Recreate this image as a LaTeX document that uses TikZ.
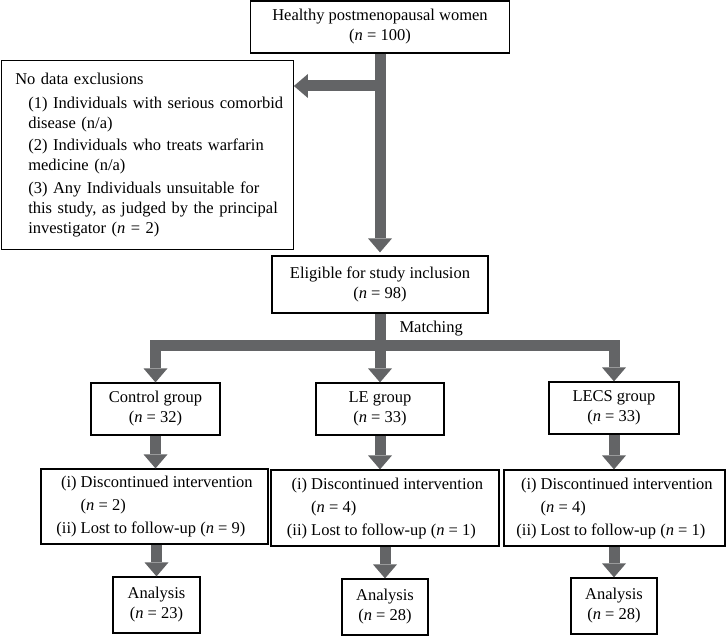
\documentclass[tikz,border=0pt]{standalone}
\usepackage{fontspec}
\setmainfont{Liberation Serif}
\usetikzlibrary{arrows.meta}
\definecolor{flechagris}{RGB}{99,100,102}
\newcommand{\nval}[1]{(\textit{n} = #1)}

\begin{document}
\begin{tikzpicture}[x=1pt,y=-1pt,
	caja/.style={draw=black, line width=1.2pt, fill=white, inner sep=0pt, align=center, font=\fontsize{16.5}{20}\selectfont},
	grueso/.style={draw=flechagris, line width=11pt},
	flecha/.style={grueso, line join=miter, -{Triangle[width=24pt,length=14pt,line width=0pt]}}]
	\useasboundingbox (0,0) rectangle (726,636);

	% Cajas superiores
		\node[caja, minimum width=259pt, minimum height=52pt] (sanas) at (380,27) {Healthy postmenopausal women\\ \nval{100}};
		\node[caja, anchor=north west, align=left, text width=264pt, inner xsep=14pt, minimum height=189pt] (excl) at (0.7,59.6) {\begin{tabular}{@{\hspace{13pt}}l@{}}
			\multicolumn{1}{@{}l@{}}{No data exclusions}\\[4pt]
			(1) Individuals with serious comorbid\\
			disease (n/a)\\[2pt]
			(2) Individuals who treats warfarin\\
			medicine (n/a)\\[3pt]
			(3) Any Individuals unsuitable for\\
			this study, as judged by the principal\\
			investigator \nval{2}\end{tabular}};
		\node[caja, minimum width=216pt, minimum height=57pt] (eleg) at (380,284.5) {Eligible for study inclusion\\ \nval{98}};

	% Grupos
		\node[caja, minimum width=129pt, minimum height=52pt] (ctrl) at (155.5,409) {Control group\\ \nval{32}};
		\node[caja, minimum width=128pt, minimum height=52pt] (le) at (380,409) {LE group\\ \nval{33}};
		\node[caja, minimum width=130pt, minimum height=52pt] (lecs) at (614,408) {LECS group\\ \nval{33}};

	% Abandonos
		\node[caja, minimum width=227pt, minimum height=75pt] (bajaA) at (154.5,506.5) {\begin{tabular}{@{}r@{\ }l@{}}
			(i) & Discontinued intervention\\[3pt]
			& \nval{2}\\[3pt]
			(ii) & Lost to follow-up \nval{9}\end{tabular}};
		\node[caja, minimum width=228pt, minimum height=76pt] (bajaB) at (385,508) {\begin{tabular}{@{}r@{\ }l@{}}
			(i) & Discontinued intervention\\[3pt]
			& \nval{4}\\[3pt]
			(ii) & Lost to follow-up \nval{1}\end{tabular}};
		\node[caja, minimum width=221pt, minimum height=76pt] (bajaC) at (614.5,508) {\begin{tabular}{@{}r@{\ }l@{}}
			(i) & Discontinued intervention\\[3pt]
			& \nval{4}\\[3pt]
			(ii) & Lost to follow-up \nval{1}\end{tabular}};

	% Analisis
		\node[caja, minimum width=87pt, minimum height=56pt] (anA) at (156.5,605) {Analysis\\ \nval{23}};
		\node[caja, minimum width=86pt, minimum height=56pt] (anB) at (385,607) {Analysis\\ \nval{28}};
		\node[caja, minimum width=86pt, minimum height=56pt] (anC) at (614,606) {Analysis\\ \nval{28}};

	% Flechas
		\coordinate (ramal) at (380,86);
		\coordinate (barra) at (380,346);
		\draw[flecha, shorten >=3pt] (sanas.south) -- (eleg.north);
		\draw[flecha] (ramal) -- (ramal -| excl.east);
		\draw[flecha] (eleg.south) -- (le.north);
		\draw[flecha] (barra) -| (ctrl.north);
		\draw[flecha] (barra) -| (lecs.north);
		\node[anchor=base west, font=\fontsize{16.5}{20}\selectfont] (empar) at (396,333) {Matching};

		\draw[flecha] (ctrl.south) -- (ctrl.south |- bajaA.north);
		\draw[flecha] (le.south) -- (le.south |- bajaB.north);
		\draw[flecha] (lecs.south) -- (lecs.south |- bajaC.north);
		\draw[flecha] (bajaA.south -| anA.north) -- (anA.north);
		\draw[flecha] (bajaB.south) -- (anB.north);
		\draw[flecha] (bajaC.south -| anC.north) -- (anC.north);
\end{tikzpicture}
\end{document}
